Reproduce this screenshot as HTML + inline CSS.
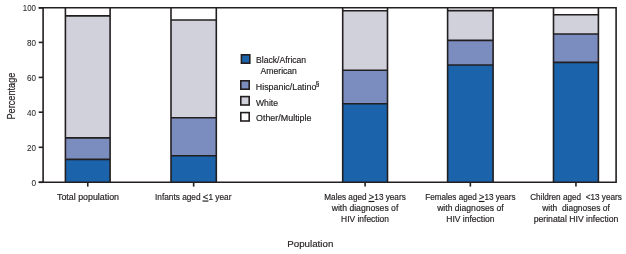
<!DOCTYPE html>
<html><head><meta charset="utf-8"><style>
html,body{margin:0;padding:0;background:#fff;width:626px;height:254px;overflow:hidden}
svg{display:block;font-family:"Liberation Sans", sans-serif;will-change:transform}
text{stroke:#231f20;stroke-width:0.18px}
</style></head><body>
<svg width="626" height="254" viewBox="0 0 626 254">
<rect x="65.4" y="7.8" width="44.70" height="8.10" fill="#fff"/>
<rect x="65.4" y="15.9" width="44.70" height="122.00" fill="#d1d1dc"/>
<rect x="65.4" y="137.9" width="44.70" height="21.50" fill="#7b8dbf"/>
<rect x="65.4" y="159.4" width="44.70" height="22.90" fill="#1b63aa"/>
<line x1="65.4" y1="159.4" x2="110.1" y2="159.4" stroke="#231f20" stroke-width="1.6"/>
<line x1="65.4" y1="137.9" x2="110.1" y2="137.9" stroke="#231f20" stroke-width="1.6"/>
<line x1="65.4" y1="15.9" x2="110.1" y2="15.9" stroke="#231f20" stroke-width="1.6"/>
<line x1="65.4" y1="7.8" x2="65.4" y2="182.3" stroke="#231f20" stroke-width="1.6"/>
<line x1="110.1" y1="7.8" x2="110.1" y2="182.3" stroke="#231f20" stroke-width="1.6"/>
<line x1="87.75" y1="182.3" x2="87.75" y2="186.6" stroke="#231f20" stroke-width="1.6"/>
<rect x="171.0" y="7.8" width="45.30" height="12.20" fill="#fff"/>
<rect x="171.0" y="20.0" width="45.30" height="97.70" fill="#d1d1dc"/>
<rect x="171.0" y="117.7" width="45.30" height="38.00" fill="#7b8dbf"/>
<rect x="171.0" y="155.7" width="45.30" height="26.60" fill="#1b63aa"/>
<line x1="171.0" y1="155.7" x2="216.3" y2="155.7" stroke="#231f20" stroke-width="1.6"/>
<line x1="171.0" y1="117.7" x2="216.3" y2="117.7" stroke="#231f20" stroke-width="1.6"/>
<line x1="171.0" y1="20.0" x2="216.3" y2="20.0" stroke="#231f20" stroke-width="1.6"/>
<line x1="171.0" y1="7.8" x2="171.0" y2="182.3" stroke="#231f20" stroke-width="1.6"/>
<line x1="216.3" y1="7.8" x2="216.3" y2="182.3" stroke="#231f20" stroke-width="1.6"/>
<line x1="193.65" y1="182.3" x2="193.65" y2="186.6" stroke="#231f20" stroke-width="1.6"/>
<rect x="342.7" y="7.8" width="44.80" height="2.90" fill="#fff"/>
<rect x="342.7" y="10.7" width="44.80" height="59.56" fill="#d1d1dc"/>
<rect x="342.7" y="70.26" width="44.80" height="33.54" fill="#7b8dbf"/>
<rect x="342.7" y="103.8" width="44.80" height="78.50" fill="#1b63aa"/>
<line x1="342.7" y1="103.8" x2="387.5" y2="103.8" stroke="#231f20" stroke-width="1.6"/>
<line x1="342.7" y1="70.26" x2="387.5" y2="70.26" stroke="#231f20" stroke-width="1.6"/>
<line x1="342.7" y1="10.7" x2="387.5" y2="10.7" stroke="#231f20" stroke-width="1.6"/>
<line x1="342.7" y1="7.8" x2="342.7" y2="182.3" stroke="#231f20" stroke-width="1.6"/>
<line x1="387.5" y1="7.8" x2="387.5" y2="182.3" stroke="#231f20" stroke-width="1.6"/>
<line x1="365.10" y1="182.3" x2="365.10" y2="186.6" stroke="#231f20" stroke-width="1.6"/>
<rect x="447.6" y="7.8" width="45.50" height="2.80" fill="#fff"/>
<rect x="447.6" y="10.6" width="45.50" height="29.80" fill="#d1d1dc"/>
<rect x="447.6" y="40.4" width="45.50" height="24.60" fill="#7b8dbf"/>
<rect x="447.6" y="65.0" width="45.50" height="117.30" fill="#1b63aa"/>
<line x1="447.6" y1="65.0" x2="493.1" y2="65.0" stroke="#231f20" stroke-width="1.6"/>
<line x1="447.6" y1="40.4" x2="493.1" y2="40.4" stroke="#231f20" stroke-width="1.6"/>
<line x1="447.6" y1="10.6" x2="493.1" y2="10.6" stroke="#231f20" stroke-width="1.6"/>
<line x1="447.6" y1="7.8" x2="447.6" y2="182.3" stroke="#231f20" stroke-width="1.6"/>
<line x1="493.1" y1="7.8" x2="493.1" y2="182.3" stroke="#231f20" stroke-width="1.6"/>
<line x1="470.35" y1="182.3" x2="470.35" y2="186.6" stroke="#231f20" stroke-width="1.6"/>
<rect x="553.5" y="7.8" width="44.90" height="7.00" fill="#fff"/>
<rect x="553.5" y="14.8" width="44.90" height="19.20" fill="#d1d1dc"/>
<rect x="553.5" y="34.0" width="44.90" height="28.40" fill="#7b8dbf"/>
<rect x="553.5" y="62.4" width="44.90" height="119.90" fill="#1b63aa"/>
<line x1="553.5" y1="62.4" x2="598.4" y2="62.4" stroke="#231f20" stroke-width="1.6"/>
<line x1="553.5" y1="34.0" x2="598.4" y2="34.0" stroke="#231f20" stroke-width="1.6"/>
<line x1="553.5" y1="14.8" x2="598.4" y2="14.8" stroke="#231f20" stroke-width="1.6"/>
<line x1="553.5" y1="7.8" x2="553.5" y2="182.3" stroke="#231f20" stroke-width="1.6"/>
<line x1="598.4" y1="7.8" x2="598.4" y2="182.3" stroke="#231f20" stroke-width="1.6"/>
<line x1="575.95" y1="182.3" x2="575.95" y2="186.6" stroke="#231f20" stroke-width="1.6"/>
<line x1="38.7" y1="7.8" x2="616.1" y2="7.8" stroke="#231f20" stroke-width="1.6"/>
<line x1="38.7" y1="182.3" x2="616.1" y2="182.3" stroke="#231f20" stroke-width="1.6"/>
<line x1="43.1" y1="7.0" x2="43.1" y2="183.10000000000002" stroke="#231f20" stroke-width="1.6"/>
<line x1="616.1" y1="7.0" x2="616.1" y2="183.10000000000002" stroke="#231f20" stroke-width="1.6"/>
<line x1="38.7" y1="7.9" x2="43.1" y2="7.9" stroke="#231f20" stroke-width="1.6"/>
<text x="36.0" y="11.20" text-anchor="end" font-size="8.6" fill="#231f20" style="stroke-width:0.05px" textLength="13.2" lengthAdjust="spacingAndGlyphs">100</text>
<line x1="38.7" y1="42.4" x2="43.1" y2="42.4" stroke="#231f20" stroke-width="1.6"/>
<text x="36.0" y="45.70" text-anchor="end" font-size="8.6" fill="#231f20" style="stroke-width:0.05px" textLength="9.0" lengthAdjust="spacingAndGlyphs">80</text>
<line x1="38.7" y1="77.4" x2="43.1" y2="77.4" stroke="#231f20" stroke-width="1.6"/>
<text x="36.0" y="80.70" text-anchor="end" font-size="8.6" fill="#231f20" style="stroke-width:0.05px" textLength="9.0" lengthAdjust="spacingAndGlyphs">60</text>
<line x1="38.7" y1="112.2" x2="43.1" y2="112.2" stroke="#231f20" stroke-width="1.6"/>
<text x="36.0" y="115.50" text-anchor="end" font-size="8.6" fill="#231f20" style="stroke-width:0.05px" textLength="9.0" lengthAdjust="spacingAndGlyphs">40</text>
<line x1="38.7" y1="147.3" x2="43.1" y2="147.3" stroke="#231f20" stroke-width="1.6"/>
<text x="36.0" y="150.60" text-anchor="end" font-size="8.6" fill="#231f20" style="stroke-width:0.05px" textLength="9.0" lengthAdjust="spacingAndGlyphs">20</text>
<line x1="38.7" y1="182.3" x2="43.1" y2="182.3" stroke="#231f20" stroke-width="1.6"/>
<text x="36.0" y="185.60" text-anchor="end" font-size="8.6" fill="#231f20" style="stroke-width:0.05px" textLength="4.6" lengthAdjust="spacingAndGlyphs">0</text>
<rect x="241.4" y="54.8" width="8.4" height="8.4" fill="#1b63aa" stroke="#231f20" stroke-width="1.6"/>
<rect x="240.8" y="80.8" width="8.4" height="8.4" fill="#7b8dbf" stroke="#231f20" stroke-width="1.6"/>
<rect x="240.8" y="96.6" width="8.4" height="8.4" fill="#d1d1dc" stroke="#231f20" stroke-width="1.6"/>
<rect x="240.8" y="112.6" width="8.4" height="8.4" fill="#fff" stroke="#231f20" stroke-width="1.6"/>
<text x="256.0" y="62.6" text-anchor="start" font-size="8.6" fill="#231f20">Black/African</text>
<text x="260.6" y="73.5" text-anchor="start" font-size="8.6" fill="#231f20">American</text>
<text x="255.8" y="89.5" text-anchor="start" font-size="8.7" fill="#231f20" textLength="60.6" lengthAdjust="spacingAndGlyphs">Hispanic/Latino</text>
<text x="315.6" y="86.2" font-size="7" fill="#231f20">§</text>
<text x="256.0" y="106.0" text-anchor="start" font-size="8.6" fill="#231f20">White</text>
<text x="256.0" y="121.0" text-anchor="start" font-size="8.6" fill="#231f20" textLength="55.5" lengthAdjust="spacingAndGlyphs">Other/Multiple</text>
<text x="88.0" y="199.8" text-anchor="middle" font-size="8.6" fill="#231f20" textLength="62" lengthAdjust="spacingAndGlyphs">Total population</text>
<text x="193.2" y="199.6" text-anchor="middle" font-size="8.6" fill="#231f20" textLength="76.4" lengthAdjust="spacingAndGlyphs">Infants aged <tspan font-size="9.8" text-decoration="underline">&lt;</tspan>1 year</text>
<text x="365.0" y="200.0" text-anchor="middle" font-size="8.6" fill="#231f20" textLength="81.5" lengthAdjust="spacingAndGlyphs">Males aged <tspan font-size="9.8" text-decoration="underline">&gt;</tspan>13 years</text>
<text x="365.0" y="210.9" text-anchor="middle" font-size="8.6" fill="#231f20" textLength="66.6" lengthAdjust="spacingAndGlyphs">with diagnoses of</text>
<text x="365.0" y="221.7" text-anchor="middle" font-size="8.6" fill="#231f20" textLength="47.8" lengthAdjust="spacingAndGlyphs">HIV infection</text>
<text x="470.4" y="200.0" text-anchor="middle" font-size="8.6" fill="#231f20" textLength="90.3" lengthAdjust="spacingAndGlyphs">Females aged <tspan font-size="9.8" text-decoration="underline">&gt;</tspan>13 years</text>
<text x="470.4" y="210.9" text-anchor="middle" font-size="8.6" fill="#231f20" textLength="66.5" lengthAdjust="spacingAndGlyphs">with diagnoses of</text>
<text x="470.4" y="221.7" text-anchor="middle" font-size="8.6" fill="#231f20" textLength="48.2" lengthAdjust="spacingAndGlyphs">HIV infection</text>
<text x="576.0" y="200.0" text-anchor="middle" font-size="8.6" fill="#231f20" textLength="91.7" lengthAdjust="spacingAndGlyphs">Children aged&#160; &lt;13 years</text>
<text x="576.0" y="210.9" text-anchor="middle" font-size="8.6" fill="#231f20" textLength="67.7" lengthAdjust="spacingAndGlyphs">with&#160; diagnoses of</text>
<text x="576.0" y="221.7" text-anchor="middle" font-size="8.6" fill="#231f20" textLength="84.7" lengthAdjust="spacingAndGlyphs">perinatal HIV infection</text>
<text x="310.3" y="247.2" text-anchor="middle" font-size="9.9" fill="#231f20" textLength="46" lengthAdjust="spacingAndGlyphs">Population</text>
<text transform="translate(15.0,96.1) rotate(-90)" text-anchor="middle" font-size="10.0" fill="#231f20" textLength="47" lengthAdjust="spacingAndGlyphs">Percentage</text>
</svg>
</body></html>
